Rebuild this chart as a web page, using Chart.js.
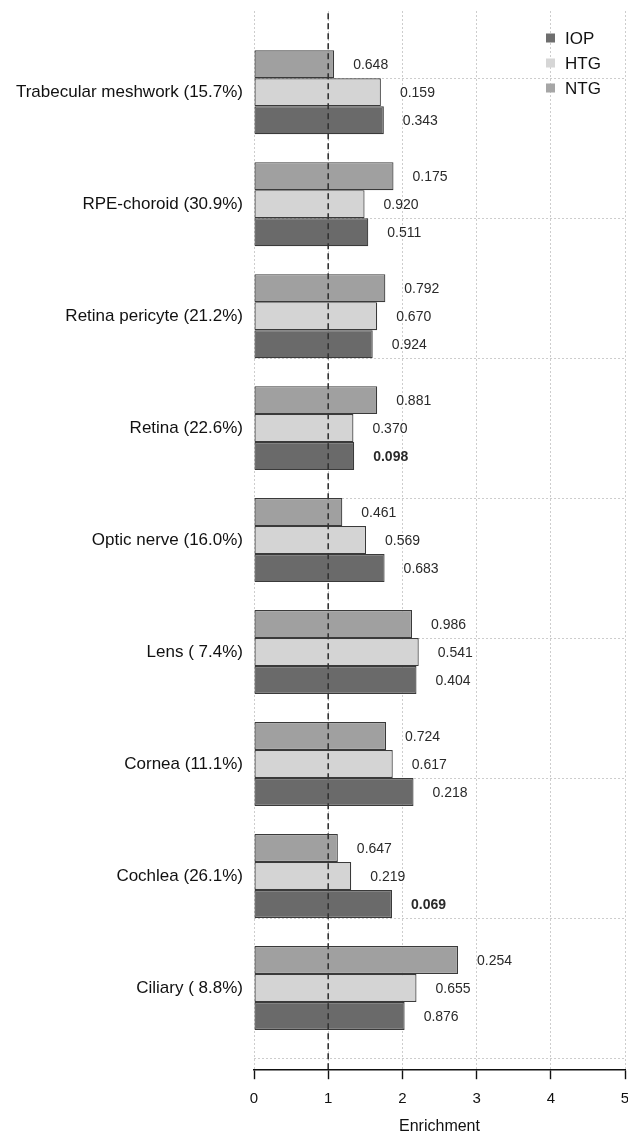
<!DOCTYPE html>
<html>
<head>
<meta charset="utf-8">
<title>Enrichment</title>
<script src="https://cdn.jsdelivr.net/npm/chart.js@4.4.1/dist/chart.umd.min.js"></script>
<style>
    html, body { margin: 0; padding: 0; background: #fff; }
    #wrap { position: relative; width: 628px; height: 1136px; }
</style>
</head>
<body>
<div id="wrap"><canvas id="enrichmentChart"></canvas></div>
<script>
// tissues, top to bottom as drawn
const tissues = [
    'Trabecular meshwork (15.7%)',
    'RPE-choroid (30.9%)',
    'Retina pericyte (21.2%)',
    'Retina (22.6%)',
    'Optic nerve (16.0%)',
    'Lens ( 7.4%)',
    'Cornea (11.1%)',
    'Cochlea (26.1%)',
    'Ciliary ( 8.8%)'
];

// enrichment per series
const iopValues = [1.75, 1.54, 1.60, 1.35, 1.76, 2.19, 2.15, 1.86, 2.03];
const htgValues = [1.71, 1.49, 1.66, 1.34, 1.51, 2.22, 1.87, 1.31, 2.19];
const ntgValues = [1.08, 1.88, 1.77, 1.66, 1.19, 2.13, 1.78, 1.13, 2.75];

// p-values printed next to each bar
const iopPvals = ['0.343', '0.511', '0.924', '0.098', '0.683', '0.404', '0.218', '0.069', '0.876'];
const htgPvals = ['0.159', '0.920', '0.670', '0.370', '0.569', '0.541', '0.617', '0.219', '0.655'];
const ntgPvals = ['0.648', '0.175', '0.792', '0.881', '0.461', '0.986', '0.724', '0.647', '0.254'];

const xTicks = [0, 1, 2, 3, 4, 5];
const refLine = 1;

const FONT = "'Liberation Sans', Arial, sans-serif";

// barplot-style index positions: 3 bars + 1 gap per group, bottom group first
const groupCenter = (i) => 2.5 + 4 * (tissues.length - 1 - i);
const groupPositions = tissues.map((t, i) => groupCenter(i));
const yMin = -0.4;
const yMax = 4 * tissues.length + 1.4;

const toPoints = (vals) => vals.map((v, i) => ({ x: v, y: groupCenter(i) }));

const series = [
    { label: 'NTG', values: ntgValues, pvals: ntgPvals, fill: '#a0a0a0', key: '#a6a6a6' },
    { label: 'HTG', values: htgValues, pvals: htgPvals, fill: '#d4d4d4', key: '#d6d6d6' },
    { label: 'IOP', values: iopValues, pvals: iopPvals, fill: '#6a6a6a', key: '#6e6e6e' }
];

const pvalueLabels = {
    id: 'pvalueLabels',
    afterDatasetsDraw(chart) {
        const ctx = chart.ctx;
        ctx.save();
        ctx.fillStyle = '#2a2a2a';
        ctx.textAlign = 'left';
        ctx.textBaseline = 'middle';
        chart.data.datasets.forEach((ds, di) => {
            if (ds.type === 'line') return;
            const meta = chart.getDatasetMeta(di);
            meta.data.forEach((bar, i) => {
                const txt = ds.pvals[i];
                ctx.font = (parseFloat(txt) < 0.1 ? 'bold ' : '') + '14px ' + FONT;
                ctx.fillText(txt, bar.x + 19, bar.y + 1);
            });
        });
        ctx.restore();
    }
};

// legend sits inside the plot, top right
const innerLegend = {
    id: 'innerLegend',
    afterDraw(chart) {
        const ctx = chart.ctx;
        const left = chart.chartArea.right - 79;
        ctx.save();
        ctx.font = '17px ' + FONT;
        ctx.textBaseline = 'middle';
        ctx.textAlign = 'left';
        const items = chart.data.datasets.filter(d => d.type !== 'line').slice().reverse();
        items.forEach((ds, k) => {
            const cy = 38 + k * 25;
            ctx.fillStyle = ds.keyColor;
            ctx.fillRect(left, cy - 4.5, 9, 9);
            ctx.fillStyle = '#111';
            ctx.fillText(ds.label, left + 19, cy + 1);
        });
        ctx.restore();
    }
};

const datasets = series.map(s => ({
    type: 'bar',
    label: s.label,
    data: toPoints(s.values),
    pvals: s.pvals,
    keyColor: s.key,
    backgroundColor: s.fill,
    borderColor: '#3a3a3a',
    borderWidth: 1.2,
    borderSkipped: false,
    categoryPercentage: 0.75,
    barPercentage: 1,
    order: 1
}));

datasets.push({
    type: 'line',
    label: 'ref',
    data: [{ x: refLine, y: yMin }, { x: refLine, y: yMax }],
    borderColor: '#333',
    borderWidth: 1.6,
    borderDash: [6, 4],
    pointRadius: 0,
    fill: false,
    order: 0
});

const noVerticalPad = (axis) => { axis.paddingTop = 0; axis.paddingBottom = 0; };

new Chart(document.getElementById('enrichmentChart'), {
    data: { datasets },
    plugins: [pvalueLabels, innerLegend],
    options: {
        indexAxis: 'y',
        responsive: true,
        maintainAspectRatio: false,
        animation: false,
        layout: { padding: { top: 11, right: 3, bottom: 0, left: 0 } },
        plugins: {
            legend: { display: false },
            tooltip: { enabled: false }
        },
        scales: {
            x: {
                type: 'linear',
                position: 'bottom',
                min: 0,
                max: 5,
                offset: false,
                afterBuildTicks: (axis) => { axis.ticks = xTicks.map(v => ({ value: v })); },
                afterFit: (axis) => { axis.height = 66.8; axis.paddingLeft = 0; axis.paddingRight = 0; },
                grid: {
                    color: '#cdcdcd',
                    lineWidth: 1,
                    offset: false,
                    tickColor: '#111',
                    tickLength: 10,
                    tickWidth: 1.4,
                    tickBorderDash: []
                },
                border: { display: true, color: '#111', width: 1.4, dash: [2, 2] },
                ticks: {
                    color: '#111',
                    font: { family: FONT, size: 15 },
                    padding: 11,
                    maxRotation: 0
                },
                title: {
                    display: true,
                    text: 'Enrichment',
                    color: '#111',
                    font: { family: FONT, size: 16, lineHeight: 1.2 },
                    padding: { top: 0, bottom: 0 }
                }
            },
            y: {
                type: 'linear',
                position: 'left',
                weight: 1,
                min: yMin,
                max: yMax,
                offset: false,
                ticks: { display: false, stepSize: 5, includeBounds: false },
                afterFit: (axis) => { axis.width = 0; noVerticalPad(axis); },
                grid: { color: '#cdcdcd', lineWidth: 1, drawTicks: false, offset: false },
                border: { display: false, dash: [2, 2] }
            },
            yl: {
                type: 'linear',
                position: 'left',
                weight: 0,
                min: yMin,
                max: yMax,
                offset: false,
                afterBuildTicks: (axis) => { axis.ticks = groupPositions.map(v => ({ value: v })); },
                afterFit: (axis) => { axis.width = 254; noVerticalPad(axis); },
                ticks: {
                    autoSkip: false,
                    color: '#111',
                    padding: 11,
                    font: { family: FONT, size: 17 },
                    callback: (value) => tissues[groupPositions.indexOf(value)]
                },
                grid: { display: false, drawTicks: false },
                border: { display: false }
            }
        }
    }
});
</script>
</body>
</html>
